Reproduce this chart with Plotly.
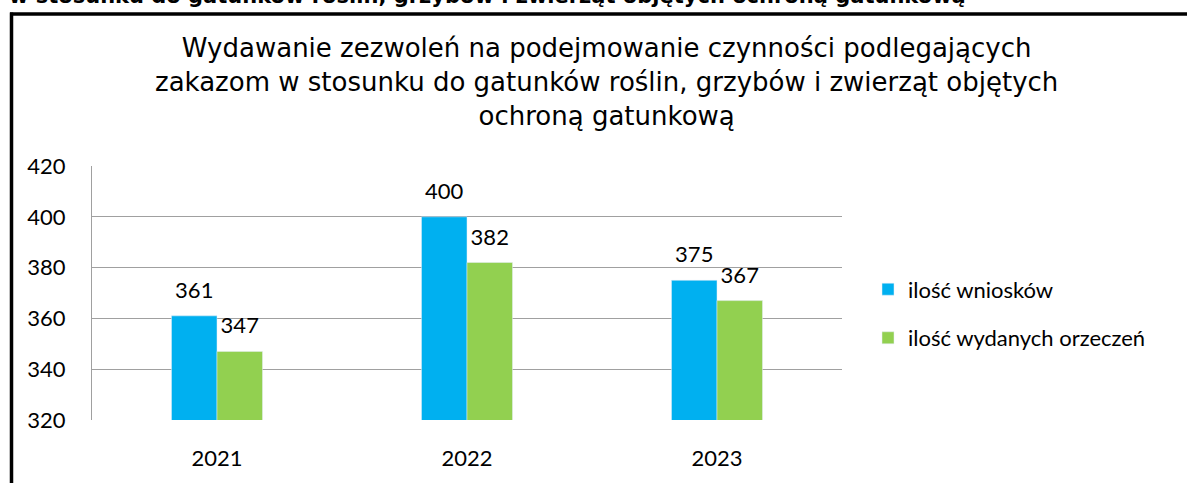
import plotly.graph_objects as go

years = ["2021", "2022", "2023"]
wnioski = [361, 400, 375]
orzeczenia = [347, 382, 367]
series_names = ["ilość wniosków", "ilość wydanych orzeczeń"]
y_ticks = [320, 340, 360, 380, 400, 420]

title_text = ("Wydawanie zezwoleń na podejmowanie czynności podlegających<br>"
              "zakazom w stosunku do gatunków roślin, grzybów i zwierząt objętych<br>"
              "ochroną gatunkową")
header_text = "w stosunku do gatunków roślin, grzybów i zwierząt objętych ochroną gatunkową"

W, H = 1187, 483
L, R, T, B = 92, 842, 166, 424

def px(x):
    return (x - L) / (R - L)

def py(y):
    return (B - y) / (B - T)

FAM = "Lato, Carlito, Calibri, sans-serif"
label_font = dict(family=FAM, size=22, color="#000000")
small_font = dict(family=FAM, size=10, color="#000000")
tmpl = "<span style='font-size:22px'>%{y}</span><br> "

fig = go.Figure()
fig.add_trace(go.Bar(x=years, y=wnioski, name=series_names[0], marker_color="#00B0F0",
                     texttemplate=tmpl, textposition="outside", textfont=small_font,
                     cliponaxis=False, legendgroup="a"))
fig.add_trace(go.Bar(x=years, y=orzeczenia, name=series_names[1], marker_color="#92D050",
                     texttemplate=tmpl, textposition="outside", textfont=small_font,
                     cliponaxis=False, legendgroup="b"))

fig.update_layout(
    width=W, height=H,
    margin=dict(l=L, r=W - R, t=T, b=H - B, pad=0),
    paper_bgcolor="white", plot_bgcolor="white",
    barmode="group", bargap=0.636, bargroupgap=0,
    font=label_font,
    showlegend=True,
    legend=dict(x=px(868), y=py(270), xanchor="left", yanchor="top",
                font=dict(family=FAM, size=22, color="#000"),
                tracegroupgap=17, itemwidth=30, bgcolor="rgba(0,0,0,0)"),
    xaxis=dict(type="category", showgrid=False, showline=False, ticks="",
               tickfont=label_font, ticklabelstandoff=23),
    yaxis=dict(range=[320, 420], tickvals=y_ticks, showgrid=True, gridcolor="#A0A0A0",
               gridwidth=1.3, showline=True, linecolor="#A0A0A0", linewidth=1.3,
               zeroline=False, ticks="", tickfont=label_font, ticklabelstandoff=21),
)

fig.add_annotation(text=title_text, xref="paper", yref="paper", x=px(606), y=py(81),
                   xanchor="center", yanchor="middle", showarrow=False, align="center",
                   font=dict(family="DejaVu Sans, Liberation Sans, sans-serif", size=26,
                             color="#000"))

fig.add_annotation(text="<b>" + header_text + "</b>", xref="paper", yref="paper",
                   x=px(7), y=py(8), xanchor="left", yanchor="bottom", showarrow=False,
                   font=dict(family="DejaVu Sans, Liberation Sans, sans-serif", size=21,
                             color="#000"))

# outer frame (top and left edges)
fig.add_shape(type="line", xref="paper", yref="paper", x0=px(10), x1=px(1190),
              y0=py(11.5), y1=py(11.5), line=dict(color="#000", width=3.5))
fig.add_shape(type="line", xref="paper", yref="paper", x0=px(11.5), x1=px(11.5),
              y0=py(10), y1=py(490), line=dict(color="#000", width=3.5))

fig.write_html("out.html", config={"displayModeBar": False},
               post_script="document.body.style.margin='0';document.body.style.padding='0';")
